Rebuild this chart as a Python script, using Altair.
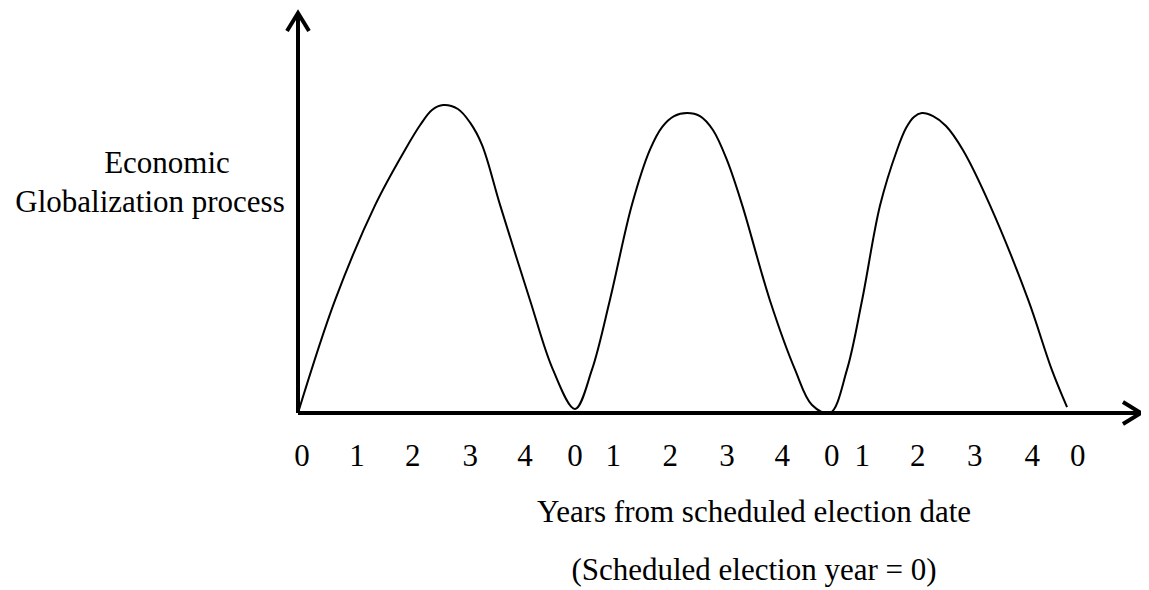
import altair as alt
import pandas as pd

# ---- data ----
# curve: x in years along the axis, y = level of economic globalization (0..100)
years = [0.00, 0.66, 1.37, 1.90, 2.17, 2.38, 2.58, 2.84, 3.06, 3.27, 3.59, 4.12, 4.53, 4.92,
         5.22, 5.54, 5.93, 6.25, 6.47, 6.68, 6.91, 7.14, 7.37, 7.62, 7.89, 8.38, 8.83, 9.13, 9.45,
         9.75, 10.02, 10.34, 10.64, 10.80, 10.94, 11.08, 11.28, 11.51, 11.81, 12.29, 12.97,
         13.39, 13.66]
level = [0.0, 36.7, 67.5, 85.4, 93.5, 98.4, 100.0, 98.7, 94.2, 87.0, 67.5, 36.7, 14.0, 1.3,
         14.0, 36.7, 67.5, 85.4, 92.9, 96.4, 97.4, 96.4, 91.9, 82.1, 67.5, 36.7, 14.0, 2.6, 0.0,
         14.0, 36.7, 67.5, 85.4, 92.5, 96.1, 97.4, 96.4, 93.2, 85.4, 67.5, 36.7,
         14.0, 1.9]

tick_pos = [0.07, 1.05, 2.04, 3.06, 4.03, 4.92, 5.60, 6.61, 7.62, 8.60,
            9.48, 10.02, 11.01, 12.02, 13.04, 13.85]
tick_text = ["0", "1", "2", "3", "4", "0", "1", "2", "3", "4",
             "0", "1", "2", "3", "4", "0"]

y_label_lines = ["Economic", "Globalization process"]
x_title = "Years from scheduled election date"
x_subtitle = "(Scheduled election year = 0)"

# ---- layout ----
W, H = 1127, 581
PX_PER_YEAR = 56.3
PX_PER_UNIT = 3.08
ORIGIN_X = 290   # plot px of year 0
ORIGIN_Y = 405   # plot px of level 0
X0 = -ORIGIN_X / PX_PER_YEAR
X1 = X0 + W / PX_PER_YEAR
YT = ORIGIN_Y / PX_PER_UNIT
YB = YT - H / PX_PER_UNIT
X_AXIS_END = (1133 - ORIGIN_X) / PX_PER_YEAR
Y_AXIS_TOP = (ORIGIN_Y - 5) / PX_PER_UNIT
FONT = "Liberation Serif"

xs = alt.Scale(domain=[X0, X1], nice=False, zero=False)
ys = alt.Scale(domain=[YB, YT], nice=False, zero=False)

curve_df = pd.DataFrame({"t": years, "v": level})
tick_df = pd.DataFrame({"t": tick_pos, "label": tick_text})
axes_df = pd.DataFrame({"t": [0.0, 0.0], "t2": [X_AXIS_END, 0.0],
                        "v": [0.0, 0.0], "v2": [0.0, Y_AXIS_TOP]})
heads_df = pd.DataFrame({"t": [0.0, X_AXIS_END], "v": [Y_AXIS_TOP, 0.0],
                         "ang": [0, 90]})

curve = alt.Chart(curve_df).mark_line(
    interpolate="catmull-rom", color="black", strokeWidth=2
).encode(
    x=alt.X("t:Q", scale=xs, axis=None),
    y=alt.Y("v:Q", scale=ys, axis=None),
)

axes = alt.Chart(axes_df).mark_rule(color="black", strokeWidth=4).encode(
    x=alt.X("t:Q", scale=xs, axis=None), x2="t2:Q",
    y=alt.Y("v:Q", scale=ys, axis=None), y2="v2:Q",
)

heads = alt.Chart(heads_df).mark_point(
    shape="M -1 1.64 L 0 0 L 1 1.64", filled=False, color="black",
    strokeWidth=4, size=484, opacity=1
).encode(
    x=alt.X("t:Q", scale=xs, axis=None),
    y=alt.Y("v:Q", scale=ys, axis=None),
    angle=alt.Angle("ang:Q", scale=None),
)

ticks = alt.Chart(tick_df).mark_text(
    font=FONT, fontSize=31, color="black", baseline="alphabetic", align="center"
).encode(
    x=alt.X("t:Q", scale=xs, axis=None),
    y=alt.value(458),
    text="label:N",
)

ylab = alt.Chart(pd.DataFrame({"s": y_label_lines, "i": [0, 1]})).transform_calculate(
    px="datum.i == 0 ? 159 : 142", py="datum.i == 0 ? 165 : 204"
).mark_text(
    font=FONT, fontSize=31, color="black", baseline="alphabetic", align="center"
).encode(
    x=alt.X("px:Q", scale=None), y=alt.Y("py:Q", scale=None), text="s:N"
)

xt = alt.Chart(pd.DataFrame({"s": [x_title, x_subtitle], "i": [0, 1]})).transform_calculate(
    py="datum.i == 0 ? 514 : 572"
).mark_text(
    font=FONT, fontSize=31, color="black", baseline="alphabetic", align="center"
).encode(
    x=alt.value(746), y=alt.Y("py:Q", scale=None), text="s:N"
)

chart = alt.layer(axes, heads, curve, ticks, ylab, xt).properties(
    width=W, height=H,
    padding={"left": 0, "top": 0, "right": 6, "bottom": 0},
    autosize="none",
).configure_view(stroke=None)

chart.save("out.html", embed_options={"renderer": "svg", "actions": False})
